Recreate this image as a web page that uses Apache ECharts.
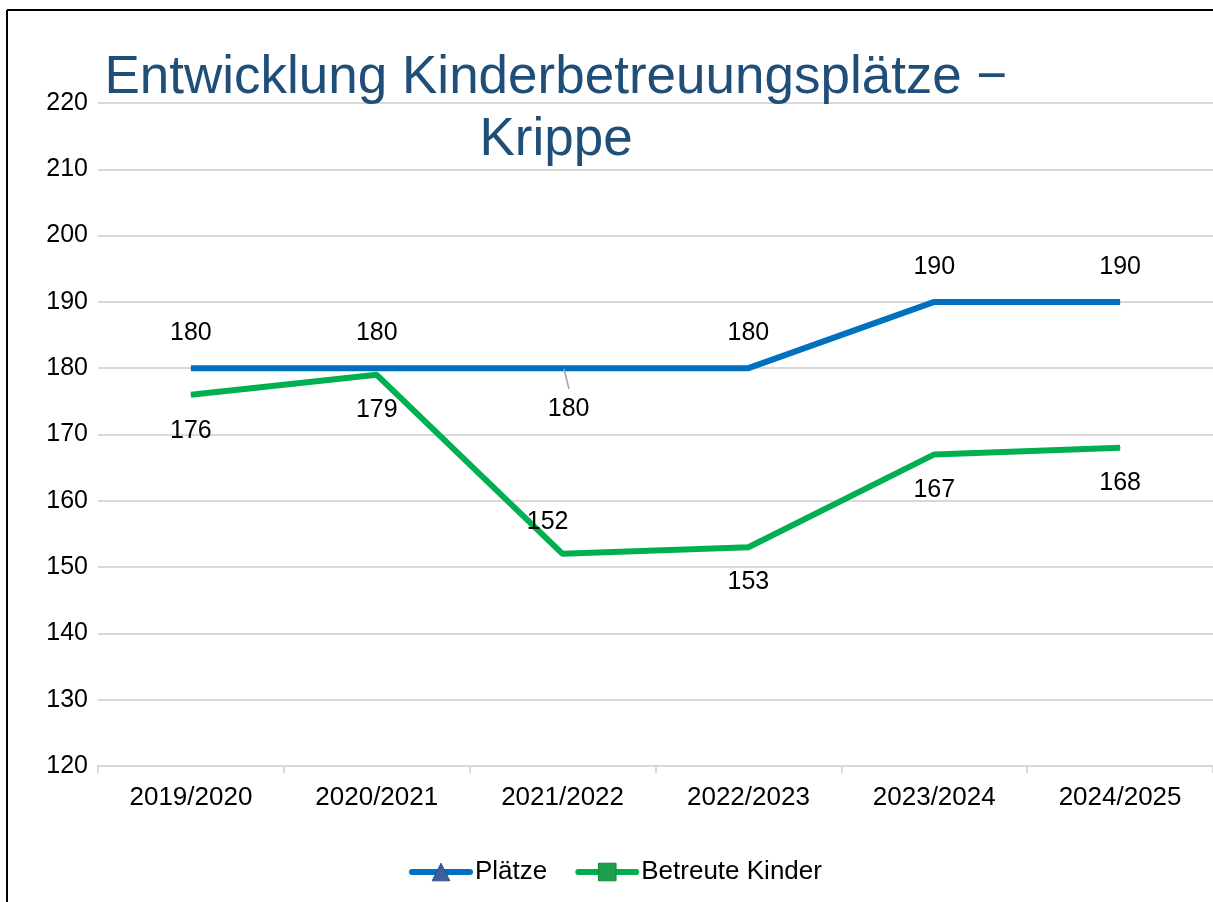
<!DOCTYPE html>
<html>
<head>
<meta charset="utf-8">
<script src="https://cdn.jsdelivr.net/npm/echarts@6/dist/echarts.min.js"></script>
<style>
  html, body { margin: 0; padding: 0; background: #fff; }
  #chart { width: 1213px; height: 902px; }
</style>
</head>
<body>
<div id="chart"></div>
<script>
const jahre = ['2019/2020', '2020/2021', '2021/2022', '2022/2023', '2023/2024', '2024/2025'];
const plaetze = [180, 180, 180, 180, 190, 190];
const betreuteKinder = [176, 179, 152, 153, 167, 168];

const FONT = 'Liberation Sans, Arial, sans-serif';

// label placement per point (reads like the original)
const plaetzeLabels = [
  { position: 'top', distance: 22 },
  { position: 'top', distance: 22 },
  { position: 'bottom', distance: 28, offset: [6, 0] },
  { position: 'top', distance: 22 },
  { position: 'top', distance: 22 },
  { position: 'top', distance: 22 }
];
const kinderLabels = [
  { position: 'bottom', distance: 23 },
  { position: 'bottom', distance: 22 },
  { position: 'top', distance: 19, offset: [-15, 0] },
  { position: 'bottom', distance: 22 },
  { position: 'bottom', distance: 23 },
  { position: 'bottom', distance: 22 }
];

const chart = echarts.init(document.getElementById('chart'));

const option = {
  backgroundColor: '#fff',
  animation: false,
  title: {
    text: 'Entwicklung Kinderbetreuungsplätze −\nKrippe',
    left: 556,
    top: 47,
    padding: 0,
    textAlign: 'center',
    textStyle: {
      fontFamily: FONT,
      fontSize: 53,
      fontWeight: 'normal',
      color: '#1F4E79',
      lineHeight: 62
    }
  },
  grid: { left: 98, right: -3, top: 103, bottom: 136 },
  legend: {
    left: 404,
    top: 854,
    itemWidth: 58,
    itemHeight: 22,
    itemGap: 28,
    textStyle: { fontFamily: FONT, fontSize: 26, color: '#000' },
    data: [
      {
        name: 'Plätze',
        itemStyle: { color: '#3F5F9A', borderColor: '#2F4F8A', borderWidth: 1 },
        lineStyle: { color: '#0070C0', width: 6, cap: 'round' }
      },
      {
        name: 'Betreute Kinder',
        itemStyle: { color: '#1E9E4A', borderColor: '#138A3A', borderWidth: 1 },
        lineStyle: { color: '#00B050', width: 6, cap: 'round' }
      }
    ]
  },
  xAxis: {
    type: 'category',
    data: jahre,
    boundaryGap: true,
    axisLine: { lineStyle: { color: '#D9D9D9', width: 2 } },
    axisTick: { show: true, length: 7, lineStyle: { color: '#D9D9D9', width: 2 } },
    axisLabel: { fontFamily: FONT, fontSize: 26, color: '#000', margin: 19 }
  },
  yAxis: {
    type: 'value',
    min: 120,
    max: 220,
    interval: 10,
    axisLine: { show: false },
    axisTick: { show: false },
    splitLine: { lineStyle: { color: '#D9D9D9', width: 2 } },
    axisLabel: { fontFamily: FONT, fontSize: 25, color: '#000', margin: 10 }
  },
  series: [
    {
      name: 'Plätze',
      type: 'line',
      data: plaetze.map((v, i) => ({ value: v, label: plaetzeLabels[i] })),
      symbol: 'triangle',
      symbolSize: 1,
      lineStyle: { color: '#0070C0', width: 6 },
      itemStyle: { color: '#0070C0' },
      label: { show: true, fontFamily: FONT, fontSize: 25, color: '#000' },
      z: 3
    },
    {
      name: 'Betreute Kinder',
      type: 'line',
      data: betreuteKinder.map((v, i) => ({ value: v, label: kinderLabels[i] })),
      symbol: 'rect',
      symbolSize: 1,
      lineStyle: { color: '#00B050', width: 6 },
      itemStyle: { color: '#00B050' },
      label: { show: true, fontFamily: FONT, fontSize: 25, color: '#000' },
      z: 2
    }
  ],
  graphic: [
    // frame lines on left and top
    { type: 'line', shape: { x1: 7, y1: 10, x2: 7, y2: 902 }, style: { stroke: '#000', lineWidth: 2 }, z: 10 },
    { type: 'line', shape: { x1: 7, y1: 10, x2: 1213, y2: 10 }, style: { stroke: '#000', lineWidth: 2 }, z: 10 },
    // small leader line at the 2021/2022 label
    { type: 'line', shape: { x1: 564, y1: 369, x2: 569, y2: 389 }, style: { stroke: '#A6A6A6', lineWidth: 1.5 }, z: 10 }
  ]
};

chart.setOption(option);
</script>
</body>
</html>
